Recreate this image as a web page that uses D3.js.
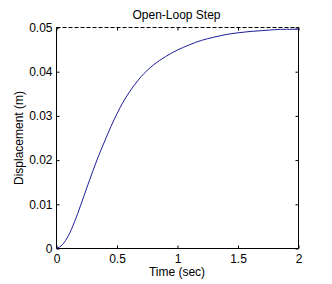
<!DOCTYPE html>
<html>
<head>
<meta charset="utf-8">
<script src="https://cdn.jsdelivr.net/npm/d3@7/dist/d3.min.js"></script>
<style>
  body { margin: 0; background: #fff; }
  svg text { font-family: "Liberation Sans", Arial, sans-serif; font-size: 12px; fill: #000; }
</style>
</head>
<body>
<svg id="stage" width="332" height="284"></svg>
<script>
// step response
var times = [0, 0.05, 0.1, 0.15, 0.2, 0.25, 0.3, 0.35, 0.4, 0.45, 0.5, 0.55, 0.6, 0.65, 0.7,
             0.75, 0.8, 0.85, 0.9, 0.95, 1.0, 1.1, 1.2, 1.3, 1.4, 1.5, 1.6, 1.7, 1.8, 1.9, 2.0];
var displacement = [0, 0.0009, 0.0030, 0.0061, 0.0098, 0.0137, 0.0175, 0.0211, 0.0244, 0.0276,
                    0.0305, 0.0331, 0.0353, 0.0372, 0.0389, 0.0403, 0.0415, 0.0425, 0.0434,
                    0.0442, 0.0449, 0.0461, 0.0471, 0.0478, 0.0484, 0.0488, 0.0491, 0.0493,
                    0.0495, 0.0496, 0.0496];
var steadyState = 0.05;

var xTicks = [0, 0.5, 1, 1.5, 2];
var xTickLabels = ["0", "0.5", "1", "1.5", "2"];
var yTicks = [0, 0.01, 0.02, 0.03, 0.04, 0.05];
var yTickLabels = ["0", "0.01", "0.02", "0.03", "0.04", "0.05"];

var titleText = "Open-Loop Step";
var xLabel = "Time (sec)";
var yLabel = "Displacement (m)";

var svg = d3.select("#stage");

// plot box (window.top is reserved, so prefixed names)
var boxLeft = 56.5, boxRight = 298.5, boxTop = 27.5, boxBottom = 248.5;

var x = d3.scaleLinear().domain([0, 2]).range([boxLeft, boxRight]);
var y = d3.scaleLinear().domain([0, 0.05]).range([boxBottom, boxTop]);

var data = times.map(function(d, i) { return { t: d, v: displacement[i] }; });

// axes, ticks pointing inward
svg.append("g")
  .attr("transform", "translate(0," + boxBottom + ")")
  .call(d3.axisBottom(x).tickValues(xTicks).tickSize(-3).tickPadding(6)
    .tickFormat(function(d, i) { return xTickLabels[i]; }));

svg.append("g")
  .attr("transform", "translate(" + boxLeft + ",0)")
  .call(d3.axisLeft(y).tickValues(yTicks).tickSize(-3).tickPadding(4)
    .tickFormat(function(d, i) { return yTickLabels[i]; }));

svg.append("g")
  .attr("transform", "translate(0," + boxTop + ")")
  .call(d3.axisTop(x).tickValues(xTicks).tickSize(-3).tickFormat(""));

svg.append("g")
  .attr("transform", "translate(" + boxRight + ",0)")
  .call(d3.axisRight(y).tickValues(yTicks).tickSize(-3).tickFormat(""));

svg.selectAll(".domain").remove();
svg.selectAll(".tick line").attr("stroke", "#000");
svg.selectAll("g").attr("font-family", null).attr("font-size", null);

// box: left, bottom, right solid
svg.append("path")
  .attr("d", "M" + boxLeft + "," + boxTop + "V" + boxBottom + "H" + boxRight + "V" + boxTop)
  .attr("fill", "none")
  .attr("stroke", "#000");

// steady state dashed line
svg.append("line")
  .attr("x1", boxLeft).attr("x2", boxRight)
  .attr("y1", y(steadyState)).attr("y2", y(steadyState))
  .attr("stroke", "#000")
  .attr("stroke-dasharray", "4,2");

// response curve
var line = d3.line()
  .x(function(d) { return x(d.t); })
  .y(function(d) { return y(d.v); })
  .curve(d3.curveMonotoneX);

svg.append("path")
  .datum(data)
  .attr("d", line)
  .attr("fill", "none")
  .attr("stroke", "#1c1c98")
  .attr("stroke-width", 1);

// labels
svg.append("text")
  .attr("x", 176.5).attr("y", 18.5)
  .attr("text-anchor", "middle")
  .text(titleText);

svg.append("text")
  .attr("x", 177).attr("y", 276)
  .attr("text-anchor", "middle")
  .text(xLabel);

svg.append("text")
  .attr("transform", "translate(23," + ((boxTop + boxBottom) / 2) + ") rotate(-90)")
  .attr("text-anchor", "middle")
  .text(yLabel);
</script>
</body>
</html>
